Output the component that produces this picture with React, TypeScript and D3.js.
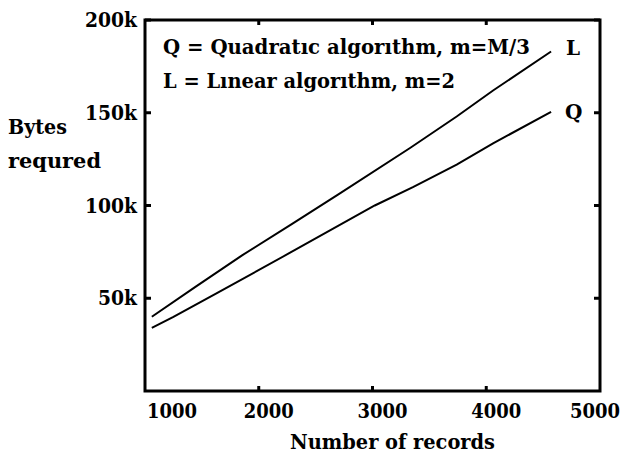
import React from "react";
import * as d3 from "d3";

const xTicks = [1000, 2000, 3000, 4000, 5000];
const yTicks = [50000, 100000, 150000, 200000];
const yTickLabels = ["50k", "100k", "150k", "200k"];

const linearX = [1060, 1440, 1850, 2290, 2700, 3330, 3740, 4060, 4570];
const linearY = [40000, 56000, 73000, 90000, 106000, 131000, 148000, 162000, 183000];
const quadX = [1060, 1250, 1640, 2260, 3020, 3360, 3740, 4060, 4570];
const quadY = [34000, 40000, 53000, 74000, 100000, 110000, 122000, 133500, 150500];

const legendLines = ["Q = Quadratıc algorıthm, m=M/3", "L = Lınear algorıthm, m=2"];

const W = 623, H = 454;
const FONT = "'DejaVu Serif', serif";

export default function App() {
  const x = d3.scaleLinear().domain([1000, 5000]).range([145, 600]);
  const y = d3.scaleLinear().domain([0, 200000]).range([391, 20]);
  const line = d3.line<[number, number]>().x(d => x(d[0])).y(d => y(d[1]));
  const L = linearX.map((v, i) => [v, linearY[i]] as [number, number]);
  const Q = quadX.map((v, i) => [v, quadY[i]] as [number, number]);
  const [x0, x1] = x.range();
  const [yb, yt] = y.range();
  const txt = { fontFamily: FONT, fontWeight: 700, fill: "#000" } as const;

  return (
    <svg width={W} height={H} style={{ position: "absolute", left: 0, top: 0, background: "#fff" }}>
      <rect x={0} y={0} width={W} height={H} fill="#fff" />
      {/* frame */}
      <rect x={x0} y={yt} width={x1 - x0} height={yb - yt} fill="none" stroke="#000" strokeWidth={3} />
      {/* y ticks left & right */}
      {yTicks.map(v => (
        <g key={"yt" + v}>
          <line x1={x0} x2={x0 + 6} y1={y(v)} y2={y(v)} stroke="#000" strokeWidth={3} />
          <line x1={x1} x2={x1 - 6} y1={y(v)} y2={y(v)} stroke="#000" strokeWidth={3} />
        </g>
      ))}
      {/* x ticks bottom & top */}
      {xTicks.slice(1, 4).map(v => (
        <g key={"xt" + v}>
          <line x1={x(v)} x2={x(v)} y1={yb} y2={yb - 5} stroke="#000" strokeWidth={3} />
          <line x1={x(v)} x2={x(v)} y1={yt} y2={yt + 5} stroke="#000" strokeWidth={3} />
        </g>
      ))}
      {/* y tick labels */}
      {yTicks.map((v, i) => (
        <text key={"yl" + v} x={137} y={y(v) + 7} textAnchor="end" fontSize={19.5} {...txt}
          textLength={yTickLabels[i].length * 13} lengthAdjust="spacingAndGlyphs">
          {yTickLabels[i]}
        </text>
      ))}
      {/* x tick labels */}
      {xTicks.map((v, i) => {
        const last = i === xTicks.length - 1;
        const first = i === 0;
        const anchor = first ? "start" : last ? "end" : "middle";
        const px = first ? x(v) + 2 : last ? x(v) + 20 : x(v) + 10;
        return (
          <text key={"xl" + v} x={px} y={418} textAnchor={anchor} fontSize={19.5} {...txt}
            textLength={50} lengthAdjust="spacingAndGlyphs">
            {String(v)}
          </text>
        );
      })}
      {/* axis titles */}
      <text x={8} y={134} fontSize={20} {...txt} textLength={59} lengthAdjust="spacingAndGlyphs">Bytes</text>
      <text x={8} y={168} fontSize={20} {...txt} textLength={93} lengthAdjust="spacingAndGlyphs">requred</text>
      <text x={290} y={449} fontSize={20} {...txt} textLength={205} lengthAdjust="spacingAndGlyphs">Number of records</text>
      {/* legend text */}
      <text x={163} y={54} fontSize={20} {...txt} textLength={367} lengthAdjust="spacingAndGlyphs">{legendLines[0]}</text>
      <text x={163} y={88} fontSize={20} {...txt} textLength={292} lengthAdjust="spacingAndGlyphs">{legendLines[1]}</text>
      {/* series */}
      <path d={line(L) || ""} fill="none" stroke="#000" strokeWidth={2} />
      <path d={line(Q) || ""} fill="none" stroke="#000" strokeWidth={2} />
      <text x={x(linearX[linearX.length - 1]) + 15} y={y(linearY[linearY.length - 1]) + 3} fontSize={20} {...txt}>L</text>
      <text x={x(quadX[quadX.length - 1]) + 14} y={y(quadY[quadY.length - 1]) + 7} fontSize={20} {...txt}>Q</text>
    </svg>
  );
}
